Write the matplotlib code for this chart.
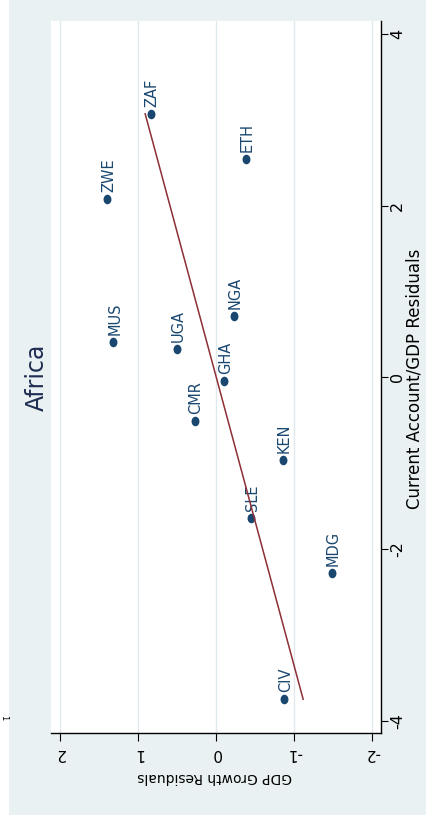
import numpy as np
import matplotlib
matplotlib.use('Agg')
import matplotlib.pyplot as plt
from matplotlib.patches import Rectangle
from matplotlib.markers import MarkerStyle
from matplotlib.transforms import Affine2D

# ---- data ----
countries = ['ZAF', 'ETH', 'ZWE', 'MUS', 'UGA', 'NGA', 'GHA', 'CMR', 'KEN', 'SLE', 'MDG', 'CIV']
gdp_resid = [0.84, -0.38, 1.40, 1.32, 0.50, -0.22, -0.10, 0.28, -0.85, -0.44, -1.48, -0.87]
ca_resid = [3.07, 2.54, 2.08, 0.41, 0.33, 0.72, -0.04, -0.51, -0.96, -1.64, -2.28, -3.75]
gdp_ticks = [2, 1, 0, -1, -2]
ca_ticks = [-4, -2, 0, 2, 4]
title = 'Africa'
gdp_title = 'GDP Growth Residuals'
ca_title = 'Current Account/GDP Residuals'

plt.rcParams['font.family'] = ['DejaVu Sans']

W, H = 427, 822
fig = plt.figure(figsize=(W / 100, H / 100), dpi=100)
fig.patch.set_facecolor('white')
fig.patches.append(Rectangle((9 / W, 1 - 815 / H), (W - 9) / W, 815 / H,
                             transform=fig.transFigure, facecolor='#EAF1F3',
                             edgecolor='none', zorder=-10))

ax = fig.add_axes([51 / W, 1 - 733 / H, 330.3 / W, 712 / H])
ax.set_facecolor('white')

navy = '#1A476F'
marker = MarkerStyle('o', transform=Affine2D().scale(0.95, 1.15))
ax.plot(gdp_resid, ca_resid, linestyle='none', marker=marker, markersize=6,
        color=navy, markeredgewidth=0, zorder=3)

for name, g, c in zip(countries, gdp_resid, ca_resid):
    ax.annotate(name, (g, c), xytext=(1, 5), textcoords='offset points',
                rotation=90, rotation_mode='anchor', ha='left', va='center',
                fontsize=10.5, color=navy, zorder=3)

# linear fit of GDP residuals on CA residuals
coef = np.polyfit(ca_resid, gdp_resid, 1)
ca_line = np.array([min(ca_resid), max(ca_resid)])
gdp_line = np.polyval(coef, ca_line)
ax.plot(gdp_line, ca_line, color='#8E2F35', lw=1.1, zorder=4)

ax.set_xlim(2.12, -2.115)
ax.set_ylim(-4.143, 4.151)

ax.set_xticks(gdp_ticks)
ax.set_xticklabels([str(t) for t in gdp_ticks])
ax.yaxis.tick_right()
ax.set_yticks(ca_ticks)
ax.set_yticklabels([str(t) for t in ca_ticks])

ax.tick_params(axis='x', direction='out', length=5.5, width=0.8, pad=3.5,
               labelsize=11, labelrotation=180)
ax.tick_params(axis='y', direction='out', length=5, width=0.8, pad=1.5,
               labelsize=11.5, labelrotation=90)
for lbl in ax.get_yticklabels():
    lbl.set_va('center')

ax.grid(axis='x', color='#E0E9EC', lw=1.0)
ax.grid(axis='y', visible=False)
ax.set_axisbelow(True)

for s in ['top', 'left']:
    ax.spines[s].set_visible(False)
for s in ['right', 'bottom']:
    ax.spines[s].set_color('black')
    ax.spines[s].set_linewidth(1.0)

ax.set_xlabel(gdp_title, rotation=180, fontsize=10, ha='center', va='center')
ax.xaxis.set_label_coords((215 - 51) / 330.3, (733 - 777) / 712)
ax.yaxis.set_label_position('right')
ax.set_ylabel(ca_title, rotation=90, fontsize=12, ha='center', va='center')
ax.yaxis.set_label_coords((415 - 51) / 330.3, (733 - 378.5) / 712)

ax.text((37 - 51) / 330.3, (733 - 377.5) / 712, title, transform=ax.transAxes,
        rotation=90, rotation_mode='anchor', fontsize=17, color='#1f2d52',
        ha='center', va='center')

fig.text(4 / W, 1 - 718 / H, '1', rotation=-90, fontsize=6,
         ha='center', va='center', color='black')

fig.savefig('out.png', dpi=100)
